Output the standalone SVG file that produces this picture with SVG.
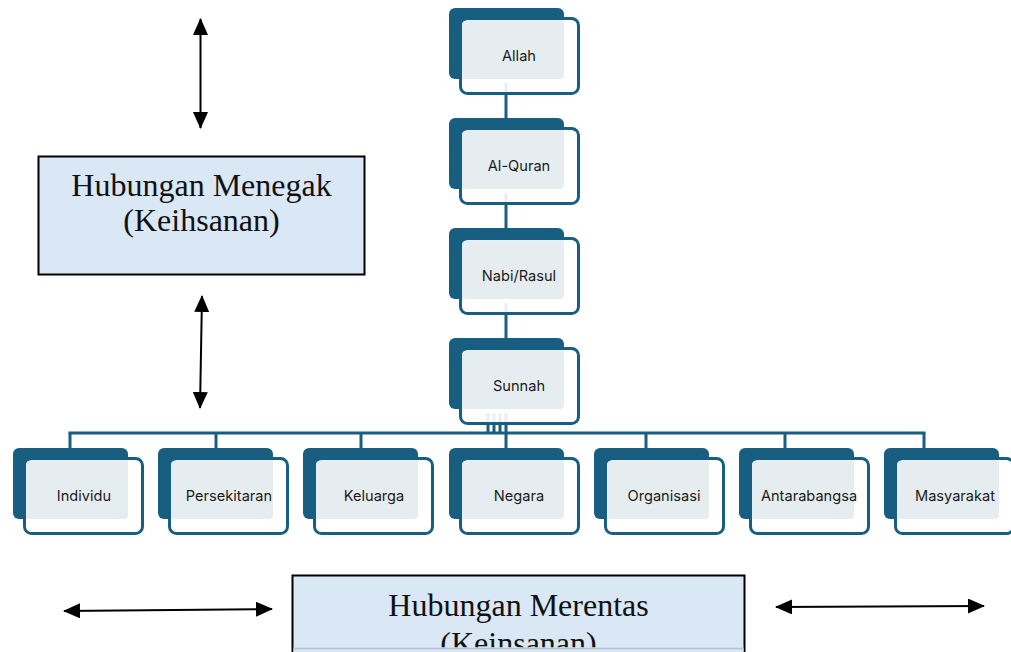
<svg xmlns="http://www.w3.org/2000/svg" width="1011" height="652" viewBox="0 0 1011 652">
<style>
.back{fill:#185e80}
.front{fill:#ffffff;fill-opacity:0.9;stroke:#185e80;stroke-width:3}
.light{fill:#e6edf1}
.lbl{font-family:Inter,"Liberation Sans",sans-serif;font-size:14.6px;fill:#1a1a1a;text-anchor:middle}
.conn{stroke:#185e80;stroke-width:3;fill:none}
.box{fill:#dae7f5;stroke:#000;stroke-width:2}
.big{font-family:"Liberation Serif",serif;font-size:32px;fill:#111;text-anchor:middle}
.arr{stroke:#000;stroke-width:2;fill:none;marker-start:url(#ah);marker-end:url(#ah)}
</style>
<defs>
<marker id="ah" markerUnits="userSpaceOnUse" viewBox="0 0 17 15" markerWidth="17" markerHeight="15" refX="16" refY="7.5" orient="auto-start-reverse">
<path d="M0,0 L17,7.5 L0,15 Z" fill="#000"/>
</marker>
<clipPath id="clipB"><rect x="0" y="0" width="1011" height="647.5"/></clipPath>
<symbol id="node" overflow="visible">
<rect class="back" x="0" y="0" width="115" height="71" rx="6"/>
<rect class="front" x="11.5" y="10.5" width="118" height="75" rx="7"/>
<rect class="light" x="13" y="13" width="102" height="58" rx="4"/>
</symbol>
</defs>

<g id="connectors">
<line class="conn" x1="506" y1="83" x2="506" y2="118"/>
<line class="conn" x1="506" y1="193" x2="506" y2="228"/>
<line class="conn" x1="506" y1="303" x2="506" y2="338"/>
<line class="conn" x1="488" y1="413" x2="488" y2="433"/>
<line class="conn" x1="494" y1="413" x2="494" y2="433"/>
<line class="conn" x1="500" y1="413" x2="500" y2="433"/>
<line class="conn" x1="506" y1="413" x2="506" y2="448"/>
<line class="conn" x1="68.5" y1="433" x2="925.5" y2="433"/>
<line class="conn" x1="70" y1="433" x2="70" y2="448"/>
<line class="conn" x1="216" y1="433" x2="216" y2="448"/>
<line class="conn" x1="361" y1="433" x2="361" y2="448"/>
<line class="conn" x1="646" y1="433" x2="646" y2="448"/>
<line class="conn" x1="785" y1="433" x2="785" y2="448"/>
<line class="conn" x1="924" y1="433" x2="924" y2="448"/>
</g>

<g id="n-allah"><use href="#node" x="449" y="8"/><text class="lbl" x="519" y="61">Allah</text></g>
<g id="n-alquran"><use href="#node" x="449" y="118"/><text class="lbl" x="519" y="171">Al-Quran</text></g>
<g id="n-nabi"><use href="#node" x="449" y="228"/><text class="lbl" x="519" y="281">Nabi/Rasul</text></g>
<g id="n-sunnah"><use href="#node" x="449" y="338"/><text class="lbl" x="519" y="391">Sunnah</text></g>

<g id="n-individu"><use href="#node" x="13" y="448"/><text class="lbl" x="84" y="501">Individu</text></g>
<g id="n-persekitaran"><use href="#node" x="158" y="448"/><text class="lbl" x="229" y="501">Persekitaran</text></g>
<g id="n-keluarga"><use href="#node" x="303" y="448"/><text class="lbl" x="374" y="501">Keluarga</text></g>
<g id="n-negara"><use href="#node" x="449" y="448"/><text class="lbl" x="519" y="501">Negara</text></g>
<g id="n-organisasi"><use href="#node" x="594" y="448"/><text class="lbl" x="664" y="501">Organisasi</text></g>
<g id="n-antarabangsa"><use href="#node" x="739" y="448"/><text class="lbl" x="809" y="501">Antarabangsa</text></g>
<g id="n-masyarakat"><use href="#node" x="884" y="448"/><text class="lbl" x="955" y="501">Masyarakat</text></g>

<g id="menegak">
<rect class="box" x="38.5" y="156.5" width="326" height="118"/>
<text class="big" x="201.5" y="196">Hubungan Menegak</text>
<text class="big" x="201.5" y="231">(Keihsanan)</text>
</g>

<g id="merentas">
<rect class="box" x="292.5" y="575.5" width="452" height="90"/>
<g clip-path="url(#clipB)">
<text class="big" x="518.5" y="616">Hubungan Merentas</text>
<text class="big" x="518.5" y="654">(Keinsanan)</text>
</g>
<rect x="293.5" y="647.5" width="450" height="4.5" fill="#dae7f5"/>
<line x1="293.5" y1="648.5" x2="743.5" y2="648.5" stroke="#b4c0cc" stroke-width="1.5"/>
</g>

<g id="arrows">
<line class="arr" x1="200.5" y1="19" x2="200.5" y2="128"/>
<line class="arr" x1="202" y1="296" x2="200" y2="408"/>
<line class="arr" x1="64" y1="611" x2="272" y2="609"/>
<line class="arr" x1="776" y1="607" x2="984" y2="606"/>
</g>
</svg>
